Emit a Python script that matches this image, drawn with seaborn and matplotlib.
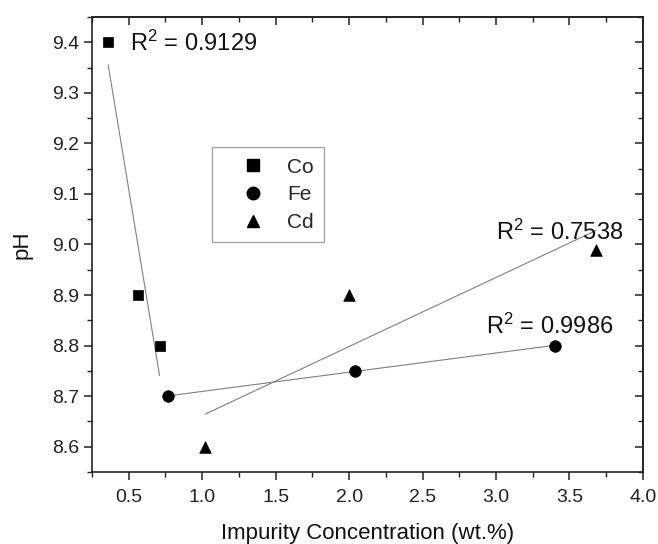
import numpy as np
import pandas as pd
import matplotlib
matplotlib.use("Agg")
import matplotlib.pyplot as plt
from matplotlib.lines import Line2D
from matplotlib.ticker import MultipleLocator
import seaborn as sns

# ---- data ----
co_x = [0.36, 0.56, 0.71]
co_y = [9.40, 8.90, 8.80]
fe_x = [0.77, 2.04, 3.40]
fe_y = [8.70, 8.75, 8.80]
cd_x = [1.02, 2.00, 3.68]
cd_y = [8.60, 8.90, 8.99]
series = ["Co", "Fe", "Cd"]
r2_labels = [r"R$^2$ = 0.9129", r"R$^2$ = 0.9986", r"R$^2$ = 0.7538"]
r2_pos = [(0.51, 9.398), (2.93, 8.838), (3.00, 9.025)]
xticks = [0.5, 1.0, 1.5, 2.0, 2.5, 3.0, 3.5, 4.0]
yticks = [8.6, 8.7, 8.8, 8.9, 9.0, 9.1, 9.2, 9.3, 9.4]

df = pd.DataFrame({
    "x": co_x + fe_x + cd_x,
    "y": co_y + fe_y + cd_y,
    "metal": ["Co"] * 3 + ["Fe"] * 3 + ["Cd"] * 3,
})

sns.set_style("ticks")
plt.rcParams["font.family"] = ["Liberation Sans", "DejaVu Sans"]
plt.rcParams["mathtext.fontset"] = "custom"
plt.rcParams["mathtext.rm"] = "Liberation Sans"
plt.rcParams["mathtext.it"] = "Liberation Sans"
plt.rcParams["mathtext.default"] = "regular"

fig = plt.figure(figsize=(6.58, 5.44), dpi=100)
ax = fig.add_axes([0.1398, 0.1324, 0.977 - 0.1398, 0.9688 - 0.1324])

line_kw = dict(color="#808080", lw=0.8)
for s in series:
    sub = df[df.metal == s]
    sns.regplot(data=sub, x="x", y="y", ax=ax, scatter=False, ci=None,
                truncate=True, line_kws=line_kw)

markers = {"Co": "s", "Fe": "o", "Cd": "^"}
sizes = {"Co": 55, "Fe": 70, "Cd": 70}
for s in series:
    sub = df[df.metal == s]
    sns.scatterplot(data=sub, x="x", y="y", ax=ax, marker=markers[s],
                    s=sizes[s], color="black", edgecolor="black", linewidth=0.5,
                    zorder=5, legend=False)

for lab, (px, py) in zip(r2_labels, r2_pos):
    ax.text(px, py, lab, fontsize=17, color="#111111", va="center", ha="left")

ax.set_xlim(0.25, 4.0)
ax.set_ylim(8.55, 9.45)
ax.set_xticks(xticks)
ax.set_xticklabels([f"{v:.1f}" for v in xticks])
ax.set_yticks(yticks)
ax.set_yticklabels([f"{v:.1f}" for v in yticks])
ax.xaxis.set_minor_locator(MultipleLocator(0.25))
ax.yaxis.set_minor_locator(MultipleLocator(0.05))

for sp in ax.spines.values():
    sp.set_visible(True)
    sp.set_linewidth(1.2)
    sp.set_color("#222222")

ax.tick_params(which="major", direction="out", length=5.5, width=1.1,
               labelsize=14, labelcolor="#222222", color="#222222",
               top=False, right=False)
ax.tick_params(axis="x", which="major", pad=7)
ax.tick_params(which="minor", direction="out", length=3.5, width=1.0,
               color="#222222", top=False, right=False)

secx = ax.secondary_xaxis("top")
secx.xaxis.set_major_locator(MultipleLocator(0.5))
secx.xaxis.set_minor_locator(MultipleLocator(0.25))
secx.tick_params(which="major", direction="in", length=5.5, width=1.1, labeltop=False, color="#222222")
secx.tick_params(which="minor", direction="in", length=3.5, width=1.0, color="#222222")
secx.spines["top"].set_linewidth(1.2)
secy = ax.secondary_yaxis("right")
secy.yaxis.set_major_locator(MultipleLocator(0.1))
secy.yaxis.set_minor_locator(MultipleLocator(0.05))
secy.tick_params(which="major", direction="in", length=5.5, width=1.1, labelright=False, color="#222222")
secy.tick_params(which="minor", direction="in", length=3.5, width=1.0, color="#222222")
secy.spines["right"].set_linewidth(1.2)

ax.set_xlabel("Impurity Concentration (wt.%)", fontsize=16, color="#111111", labelpad=12)
ax.set_ylabel("pH", fontsize=16, color="#111111", labelpad=14)

handles = [Line2D([], [], marker=markers[s], color="black", linestyle="none",
                  markersize=8 if s == "Co" else 9) for s in series]
leg = ax.legend(handles, series, loc="upper left", bbox_to_anchor=(0.218, 0.714),
                borderaxespad=0, fontsize=15, frameon=True, fancybox=False,
                edgecolor="#888888", handletextpad=0.2, borderpad=0.5,
                labelspacing=0.42, handlelength=2.9)
leg.get_frame().set_linewidth(0.9)

fig.savefig("out.png", dpi=100)
